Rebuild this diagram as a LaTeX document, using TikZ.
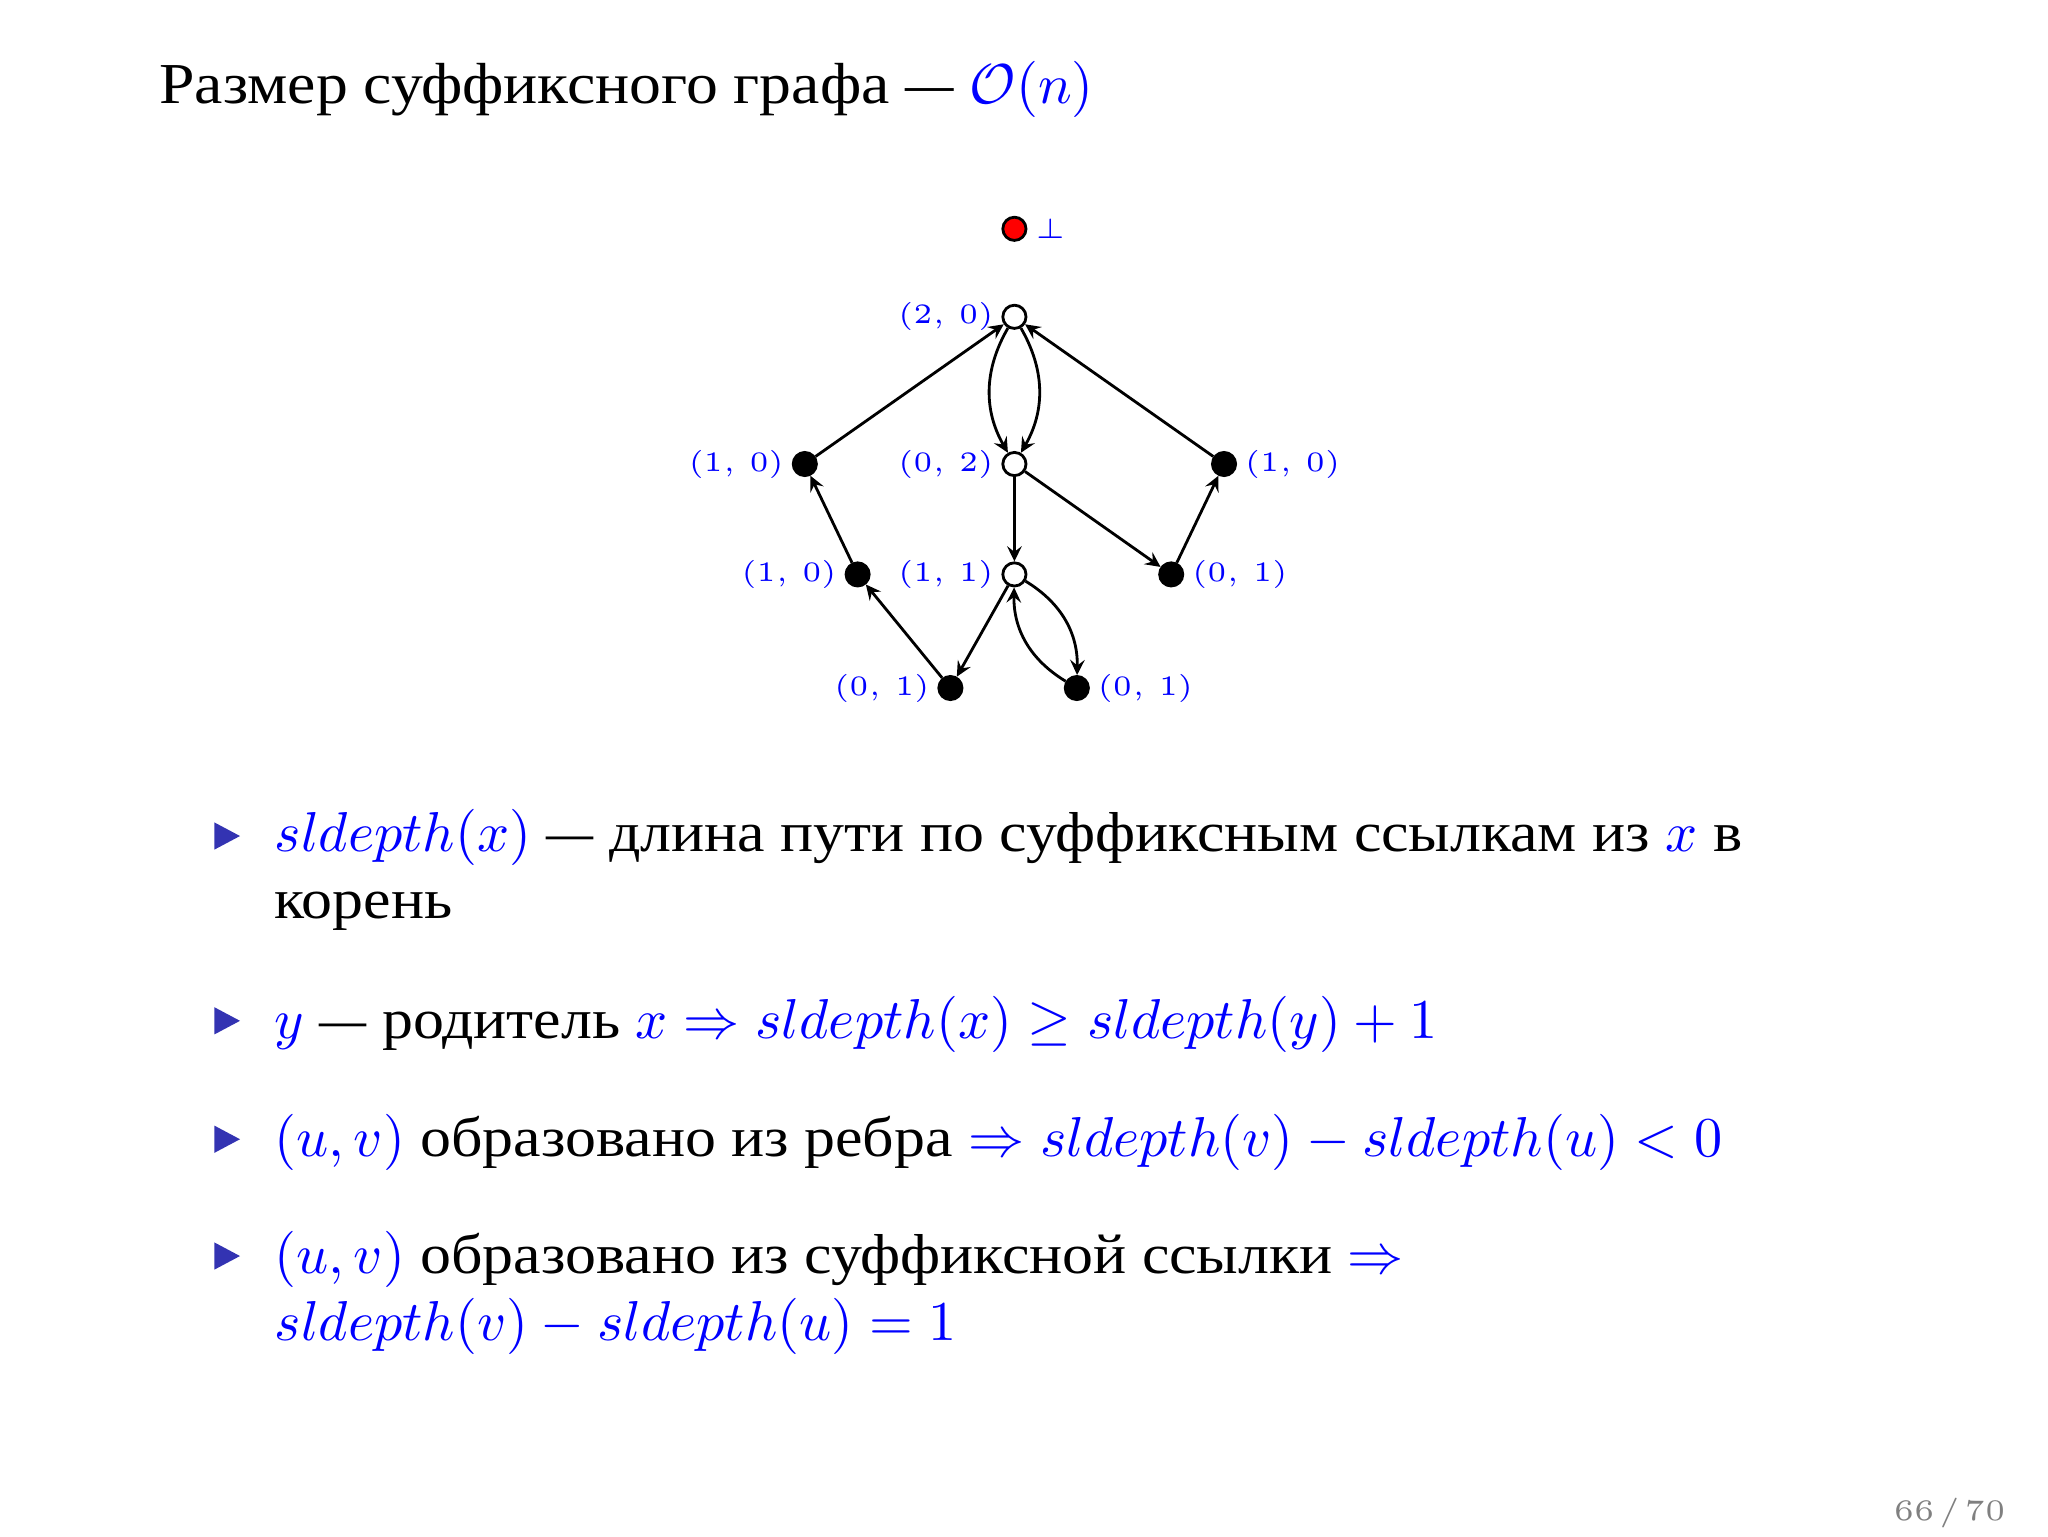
\documentclass[tikz,border=0pt]{standalone}
\usepackage[no-math]{fontspec}
\setmainfont{Liberation Serif}[FakeStretch=1.1]
\newfontfamily\lmfont{Latin Modern Roman}
\usepackage{amsmath,amssymb}
\usetikzlibrary{positioning,arrows.meta}
\definecolor{structure}{rgb}{0.2,0.2,0.7}
\definecolor{pagegray}{rgb}{0.5,0.5,0.5}
\newcommand{\rdash}{\scalebox{0.76}[1]{---}}

\tikzset{
  vtx/.style={circle, draw, line width=0.5pt, inner sep=0pt, minimum size=0.145cm},
  leaf/.style={vtx, fill=black},
  hollow/.style={vtx, fill=white},
  sink/.style={vtx, fill=red},
  lbl/.style={text=blue, inner sep=1.2pt, font=\fontsize{5.4}{7}\selectfont},
  arr/.style={line width=0.5pt, -{Stealth[length=2.7pt, width=2.6pt, inset=1pt]}},
  line/.style={anchor=base west, inner sep=0pt, font=\fontsize{10}{12}\selectfont},
}

\begin{document}
\begin{tikzpicture}
\useasboundingbox (0,0) rectangle (12.8,9.6);
%\draw [very thin, gray] (0,0) grid (12.8,9.6);

% title
\node [anchor=base west, inner sep=0pt, font=\fontsize{10.3}{12}\selectfont] (title) at (0.99,8.955)
  {Размер суффиксного графа \rdash{} {\color{blue}$\mathcal{O}(n)$}};

% graph
\node [sink, label={[lbl]right:$\perp$}] (bot) at (6.34,8.17) {};
\node [hollow, label={[lbl]left:$(2,\,0)$}] (r20) at (6.34,7.62) {};
\node [leaf, label={[lbl]left:$(1,\,0)$}] (l10) at (5.03,6.70) {};
\node [hollow, label={[lbl]left:$(0,\,2)$}] (c02) at (6.34,6.70) {};
\node [leaf, label={[lbl]right:$(1,\,0)$}] (r10) at (7.65,6.70) {};
\node [leaf, label={[lbl]left:$(1,\,0)$}] (m10) at (5.36,6.01) {};
\node [hollow, label={[lbl]left:$(1,\,1)$}] (c11) at (6.34,6.01) {};
\node [leaf, label={[lbl]right:$(0,\,1)$}] (r01) at (7.32,6.01) {};
\node [leaf, label={[lbl]left:$(0,\,1)$}] (b01) at (5.94,5.30) {};
\node [leaf, label={[lbl]right:$(0,\,1)$}] (b01r) at (6.73,5.30) {};

\draw [arr] (l10) -- (r20);
\draw [arr] (r10) -- (r20);
\draw [arr] (r20) to[bend right=30] (c02);
\draw [arr] (r20) to[bend left=30] (c02);
\draw [arr] (c02) -- (c11);
\draw [arr] (c02) -- (r01);
\draw [arr] (r01) -- (r10);
\draw [arr] (m10) -- (l10);
\draw [arr] (b01) -- (m10);
\draw [arr] (c11) -- (b01);
\draw [arr] (c11) to[bend left=30] (b01r);
\draw [arr] (b01r) to[bend left=30] (c11);

% bullets
\foreach \yy in {4.375,3.22,2.48,1.75}
  \fill [structure] (1.34,\yy-0.085) -- (1.50,\yy) -- (1.34,\yy+0.085) -- cycle;

\node [line] (t1a) at (1.71,4.28)
  {{\color{blue}$sldepth(x)$} \rdash{} длина пути по суффиксным ссылкам из {\color{blue}$x$} в};
\node [line] (t1b) at (1.71,3.86) {корень};
\node [line] (t2) at (1.71,3.11)
  {{\color{blue}$y$} \rdash{} родитель {\color{blue}$x \Rightarrow sldepth(x) \geq sldepth(y) + 1$}};
\node [line] (t3) at (1.71,2.37)
  {{\color{blue}$(u,v)$} образовано из ребра {\color{blue}$\Rightarrow sldepth(v) - sldepth(u) < 0$}};
\node [line] (t4a) at (1.71,1.64)
  {{\color{blue}$(u,v)$} образовано из суффиксной ссылки {\color{blue}$\Rightarrow$}};
\node [line] (t4b) at (1.71,1.22)
  {{\color{blue}$sldepth(v) - sldepth(u) = 1$}};

% page number
\node [anchor=base east, inner sep=0pt, text=pagegray, font=\lmfont\fontsize{5.3}{7}\selectfont]
  (page) at (12.54,0.10) {66\,/\,70};
\end{tikzpicture}
\end{document}
